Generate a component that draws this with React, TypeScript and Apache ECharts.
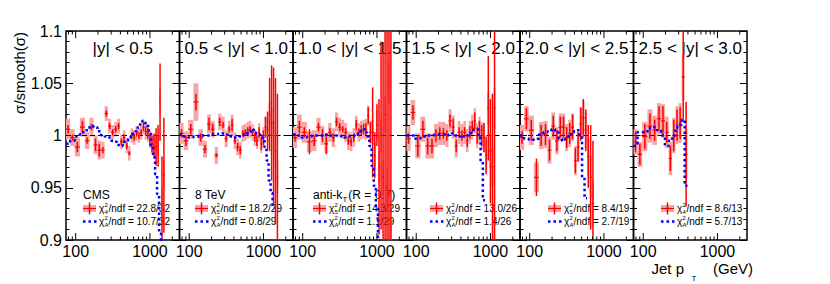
import React, { useEffect, useRef } from "react";
import * as echarts from "echarts";

// CMS inclusive-jet pT bin edges (GeV)
const BIN_EDGES = [74, 84, 97, 114, 133, 153, 174, 196, 220, 245, 272, 300, 330, 362, 395, 430, 468, 507, 548, 592, 638, 686, 737, 790, 846, 905, 967, 1032, 1101, 1172, 1248, 1327, 1410, 1497, 1588, 1684, 1784, 1890, 2000];

const X_MIN = 74;
const X_MAX = 2500;
const Y_MIN = 0.9;
const Y_MAX = 1.1;
const Y_STEP = 0.05;
const REF_VALUE = 1;
const X_TICK_VALUES = [80, 90, 100, 200, 300, 400, 500, 600, 700, 800, 900, 1000, 2000];

const RAPIDITY_LABELS = ["|y| < 0.5", "0.5 < |y| < 1.0", "1.0 < |y| < 1.5", "1.5 < |y| < 2.0", "2.0 < |y| < 2.5", "2.5 < |y| < 3.0"];
const FIT_NPAR = ["4", "5", "5", "5", "5", "4"];
const CHI2_FIT = ["22.8/32", "18.2/29", "14.3/29", "13.0/26", "8.4/19", "8.6/13"];
const CHI2_ANSATZ = ["10.7/32", "0.8/29", "1.1/29", "1.4/26", "2.7/19", "5.7/13"];

// |y| < 0.5
const P1_RATIO = [1.006, 0.998, 0.989, 1.008, 0.995, 1.008, 0.991, 0.986, 0.986, 1.021, 1.009, 1.003, 1.006, 1.009, 0.994, 0.998, 0.990, 0.983, 1.000, 0.998, 1.002, 1.000, 1.003, 1.008, 1.004, 1.002, 0.996, 0.992, 0.990, 0.989, 0.990, 1.032, 0.935, 0.962];
const P1_STAT = [0.004, 0.003, 0.005, 0.006, 0.003, 0.003, 0.006, 0.006, 0.003, 0.003, 0.003, 0.003, 0.003, 0.003, 0.003, 0.003, 0.003, 0.002, 0.003, 0.003, 0.003, 0.003, 0.003, 0.004, 0.004, 0.005, 0.006, 0.008, 0.012, 0.018, 0.020, 0.037, 0.045, 0.055];
const P1_SYST = [0.010, 0.008, 0.009, 0.009, 0.008, 0.009, 0.009, 0.009, 0.008, 0.007, 0.007, 0.007, 0.007, 0.007, 0.007, 0.007, 0.007, 0.007, 0.007, 0.007, 0.007, 0.007, 0.007, 0.007, 0.008, 0.008, 0.008, 0.009, 0.009, 0.010, 0.010, 0.012, 0.013, 0.014];
const P1_SMOOTH = [0.992, 0.995, 0.999, 1.003, 1.005, 1.009, 1.008, 1.004, 1.000, 0.999, 0.998, 0.995, 0.994, 0.991, 0.990, 0.994, 0.995, 0.998, 0.999, 1.002, 1.004, 1.008, 1.012, 1.014, 1.012, 1.009, 1.002, 0.989, 0.979, 0.963, 0.944, 0.906, 0.850];

// 0.5 < |y| < 1.0
const P2_RATIO = [1.002, 0.995, 1.006, 1.032, 0.998, 0.987, 1.011, 1.006, 0.981, 1.013, 1.010, 0.997, 1.006, 1.010, 0.995, 0.989, 0.986, 1.002, 1.003, 1.005, 1.006, 1.003, 0.998, 0.995, 1.003, 0.992, 0.998, 1.008, 1.005, 1.020, 1.012, 1.000, 0.985, 0.960];
const P2_STAT = [0.004, 0.005, 0.005, 0.008, 0.004, 0.004, 0.006, 0.005, 0.002, 0.004, 0.003, 0.003, 0.003, 0.006, 0.003, 0.004, 0.004, 0.003, 0.003, 0.003, 0.003, 0.003, 0.004, 0.005, 0.005, 0.006, 0.007, 0.010, 0.018, 0.035, 0.055, 0.065, 0.070, 0.080];
const P2_SYST = [0.010, 0.009, 0.009, 0.018, 0.008, 0.008, 0.009, 0.008, 0.008, 0.008, 0.008, 0.008, 0.008, 0.010, 0.008, 0.008, 0.008, 0.008, 0.008, 0.008, 0.008, 0.008, 0.008, 0.008, 0.009, 0.009, 0.010, 0.010, 0.011, 0.012, 0.013, 0.014, 0.015, 0.016];
const P2_SMOOTH = [1.001, 0.999, 0.998, 0.999, 1.000, 1.000, 1.000, 1.001, 1.001, 1.002, 1.002, 1.001, 1.000, 0.999, 0.998, 0.998, 0.999, 1.000, 1.001, 1.002, 1.004, 1.006, 1.003, 1.002, 1.001, 0.999, 0.996, 0.989, 0.976, 0.957, 0.945, 0.931];

// 1.0 < |y| < 1.5
const P3_RATIO = [0.998, 1.008, 1.003, 0.994, 0.995, 1.008, 1.000, 0.992, 1.003, 0.998, 1.013, 1.008, 1.006, 1.003, 0.995, 0.994, 0.998, 1.010, 1.003, 1.005, 1.006, 1.006, 1.019, 1.003, 1.003, 0.981, 1.010, 0.970, 1.000, 0.960, 1.020, 0.950, 1.050, 0.900];
const P3_STAT = [0.004, 0.006, 0.005, 0.012, 0.005, 0.004, 0.006, 0.010, 0.004, 0.004, 0.004, 0.004, 0.003, 0.004, 0.004, 0.004, 0.004, 0.005, 0.004, 0.005, 0.005, 0.006, 0.008, 0.010, 0.043, 0.022, 0.020, 0.065, 0.090, 0.120, 0.150, 0.200, 0.200, 0.200];
const P3_SYST = [0.010, 0.012, 0.010, 0.010, 0.010, 0.009, 0.009, 0.009, 0.009, 0.009, 0.009, 0.009, 0.009, 0.009, 0.009, 0.009, 0.009, 0.009, 0.009, 0.009, 0.009, 0.010, 0.010, 0.011, 0.012, 0.013, 0.014, 0.015, 0.016, 0.017, 0.018, 0.019, 0.020, 0.021];
const P3_SMOOTH = [1.001, 1.000, 0.998, 0.999, 1.000, 1.000, 1.000, 1.001, 1.000, 1.000, 1.000, 1.000, 0.999, 0.998, 0.999, 1.000, 1.000, 1.001, 1.002, 1.004, 1.006, 1.003, 0.999, 0.990, 0.971, 0.952, 0.930, 0.900];

// 1.5 < |y| < 2.0
const P4_RATIO = [0.997, 1.022, 0.990, 1.006, 0.990, 0.990, 1.000, 1.002, 1.002, 1.000, 1.014, 1.008, 0.990, 1.003, 1.000, 1.003, 0.995, 1.003, 1.008, 1.014, 1.000, 1.005, 1.000, 0.998, 0.981, 1.026, 0.985, 0.970, 1.026];
const P4_STAT = [0.005, 0.007, 0.010, 0.008, 0.008, 0.007, 0.006, 0.006, 0.005, 0.005, 0.006, 0.008, 0.006, 0.005, 0.005, 0.005, 0.006, 0.006, 0.006, 0.008, 0.008, 0.009, 0.010, 0.014, 0.018, 0.050, 0.050, 0.070, 0.200];
const P4_SYST = [0.012, 0.012, 0.012, 0.012, 0.012, 0.012, 0.011, 0.011, 0.011, 0.011, 0.011, 0.011, 0.011, 0.011, 0.011, 0.011, 0.011, 0.011, 0.012, 0.012, 0.012, 0.013, 0.013, 0.014, 0.015, 0.016, 0.017, 0.018, 0.020];
const P4_SMOOTH = [1.000, 1.000, 0.997, 0.999, 1.000, 1.000, 1.001, 1.001, 1.001, 1.000, 1.001, 1.002, 1.000, 0.999, 0.998, 0.999, 1.000, 1.002, 1.004, 1.006, 1.006, 0.998, 0.975, 0.938];

// 2.0 < |y| < 2.5
const P5_RATIO = [0.998, 1.016, 1.005, 0.960, 1.000, 1.001, 0.986, 1.009, 0.995, 1.008, 1.008, 0.998, 1.002, 1.008, 0.976, 0.989, 1.011, 1.017, 1.005, 0.980, 0.960, 0.935];
const P5_STAT = [0.006, 0.010, 0.010, 0.018, 0.010, 0.010, 0.010, 0.010, 0.010, 0.010, 0.010, 0.010, 0.010, 0.012, 0.012, 0.014, 0.016, 0.018, 0.020, 0.030, 0.050, 0.060];
const P5_SYST = [0.012, 0.012, 0.014, 0.014, 0.013, 0.013, 0.013, 0.013, 0.013, 0.013, 0.013, 0.013, 0.013, 0.013, 0.014, 0.014, 0.015, 0.016, 0.017, 0.018, 0.020, 0.022];
const P5_SMOOTH = [1.000, 0.997, 0.996, 0.997, 1.001, 1.003, 1.004, 1.006, 1.003, 0.997, 0.995, 0.997, 1.000, 1.003, 1.004, 1.005, 1.000, 0.960, 0.940];

// 2.5 < |y| < 3.0
const P6_RATIO = [0.994, 0.982, 0.999, 1.009, 1.005, 1.016, 1.014, 1.003, 0.978, 1.000, 1.010, 1.012, 1.056, 0.982];
const P6_STAT = [0.010, 0.010, 0.012, 0.012, 0.010, 0.012, 0.014, 0.010, 0.012, 0.015, 0.015, 0.015, 0.043, 0.050];
const P6_SYST = [0.012, 0.012, 0.014, 0.016, 0.014, 0.015, 0.016, 0.015, 0.016, 0.017, 0.018, 0.019, 0.022, 0.024];
const P6_SMOOTH = [0.990, 1.003, 1.003, 1.007, 1.008, 1.005, 1.000, 0.990, 0.995, 1.000, 1.008, 1.010, 1.015, 0.952];

const PANELS = [
  { ratio: P1_RATIO, stat: P1_STAT, syst: P1_SYST, smooth: P1_SMOOTH },
  { ratio: P2_RATIO, stat: P2_STAT, syst: P2_SYST, smooth: P2_SMOOTH },
  { ratio: P3_RATIO, stat: P3_STAT, syst: P3_SYST, smooth: P3_SMOOTH },
  { ratio: P4_RATIO, stat: P4_STAT, syst: P4_SYST, smooth: P4_SMOOTH },
  { ratio: P5_RATIO, stat: P5_STAT, syst: P5_SYST, smooth: P5_SMOOTH },
  { ratio: P6_RATIO, stat: P6_STAT, syst: P6_SYST, smooth: P6_SMOOTH },
];

// layout
const PANEL_X0 = 66;
const PANEL_W = 113.5;
const PANEL_TOP = 31;
const PANEL_H = 209;
const LEGEND_X = [83, 195, 313, 430, 548, 661];
const FONT = "'Liberation Sans', Arial, Helvetica, sans-serif";
const RED = "#ff0000";
const PINK = "#f8a5a5";
const BLUE = "#0000ff";

function isPow10(v: number) {
  const l = Math.log10(v);
  return Math.abs(l - Math.round(l)) < 1e-6;
}

function buildOption() {
  const grid: any[] = [];
  const xAxis: any[] = [];
  const yAxis: any[] = [];
  const series: any[] = [];
  const graphic: any[] = [];

  PANELS.forEach((p, i) => {
    grid.push({
      left: PANEL_X0 + i * PANEL_W,
      top: PANEL_TOP,
      width: PANEL_W,
      height: PANEL_H,
      show: true,
      borderColor: "#000",
      borderWidth: 1.5,
      backgroundColor: "transparent",
    });
    xAxis.push({
      gridIndex: i,
      type: "log",
      logBase: 10,
      min: X_MIN,
      max: X_MAX,
      axisLine: { show: false },
      axisTick: { show: false },
      splitLine: { show: false },
      axisLabel: {
        show: true,
        margin: 3,
        fontSize: 16,
        fontFamily: FONT,
        color: "#000",
        showMinLabel: false,
        showMaxLabel: false,
        formatter: (v: number) => (isPow10(v) ? String(Math.round(v)) : ""),
      },
    });
    const yCommon = {
      gridIndex: i,
      type: "value",
      min: Y_MIN,
      max: Y_MAX,
      interval: Y_STEP,
      axisLine: { show: false },
      splitLine: { show: false },
      axisTick: { show: true, inside: true, length: 7, lineStyle: { color: "#000", width: 1 } },
      minorTick: { show: true, splitNumber: 5, length: 3.5, lineStyle: { color: "#000", width: 1 } },
    };
    yAxis.push({
      ...yCommon,
      position: "left",
      axisLabel: {
        show: i === 0,
        margin: 4,
        fontSize: 16,
        fontFamily: FONT,
        color: "#000",
        formatter: (v: number) => String(parseFloat(v.toFixed(2))),
      },
    });
    yAxis.push({ ...yCommon, position: "right", axisLabel: { show: false } });

    const yIdx = 2 * i;
    const boxData = p.ratio.map((v, k) => [BIN_EDGES[k], BIN_EDGES[k + 1], v, p.syst[k]]);
    const barData = p.ratio.map((v, k) => [BIN_EDGES[k], BIN_EDGES[k + 1], v, p.stat[k]]);

    // systematic boxes
    series.push({
      type: "custom",
      xAxisIndex: i,
      yAxisIndex: yIdx,
      clip: true,
      silent: true,
      z: 1,
      data: boxData,
      encode: { x: [0, 1], y: 2 },
      renderItem: (params: any, api: any) => {
        const lo = api.value(0), hi = api.value(1), v = api.value(2), s = api.value(3);
        const a = api.coord([lo, v + s]);
        const b = api.coord([hi, v - s]);
        return { type: "rect", shape: { x: a[0], y: a[1], width: b[0] - a[0], height: b[1] - a[1] }, style: { fill: PINK } };
      },
    });

    // reference line at 1
    series.push({
      type: "line",
      xAxisIndex: i,
      yAxisIndex: yIdx,
      data: [[X_MIN, REF_VALUE], [X_MAX, REF_VALUE]],
      symbol: "none",
      silent: true,
      z: 2,
      lineStyle: { color: "#000", width: 1, type: [5, 3] },
    });

    // data points with stat error bars
    series.push({
      type: "custom",
      xAxisIndex: i,
      yAxisIndex: yIdx,
      clip: true,
      silent: true,
      z: 3,
      data: barData,
      encode: { x: [0, 1], y: 2 },
      renderItem: (params: any, api: any) => {
        const lo = api.value(0), hi = api.value(1), v = api.value(2), e = api.value(3);
        const c = Math.sqrt(lo * hi);
        const l = api.coord([lo, v]);
        const r = api.coord([hi, v]);
        const t = api.coord([c, v + e]);
        const b = api.coord([c, v - e]);
        return {
          type: "group",
          children: [
            { type: "line", shape: { x1: l[0], y1: l[1], x2: r[0], y2: r[1] }, style: { stroke: RED, lineWidth: 1.2 } },
            { type: "line", shape: { x1: t[0], y1: t[1], x2: b[0], y2: b[1] }, style: { stroke: RED, lineWidth: 1.5 } },
          ],
        };
      },
    });

    // smooth ansatz (histogram style)
    const sm = p.smooth.map((v, k) => [BIN_EDGES[k], v]);
    sm.push([BIN_EDGES[p.smooth.length], p.smooth[p.smooth.length - 1]]);
    series.push({
      type: "line",
      xAxisIndex: i,
      yAxisIndex: yIdx,
      data: sm,
      step: "end",
      symbol: "none",
      silent: true,
      z: 4,
      lineStyle: { color: BLUE, width: 2.5, type: [2.5, 3], cap: "butt" },
    });

    // x-axis ticks (top & bottom, inward)
    series.push({
      type: "custom",
      xAxisIndex: i,
      yAxisIndex: yIdx,
      silent: true,
      z: 5,
      data: X_TICK_VALUES.map((v) => [v, Y_MIN]),
      encode: { x: 0, y: 1 },
      renderItem: (params: any, api: any) => {
        const v = api.value(0);
        const x = api.coord([v, Y_MIN])[0];
        const cs = params.coordSys;
        const len = isPow10(v) ? 7 : 3.5;
        return {
          type: "group",
          children: [
            { type: "line", shape: { x1: x, y1: cs.y + cs.height, x2: x, y2: cs.y + cs.height - len }, style: { stroke: "#000", lineWidth: 1 } },
            { type: "line", shape: { x1: x, y1: cs.y, x2: x, y2: cs.y + len }, style: { stroke: "#000", lineWidth: 1 } },
          ],
        };
      },
    });

    // panel title
    graphic.push({
      type: "text",
      x: PANEL_X0 + (i + 0.5) * PANEL_W,
      y: 48,
      style: { text: RAPIDITY_LABELS[i], fontSize: 17, fontFamily: FONT, fill: "#000", textAlign: "center", textVerticalAlign: "middle" },
    });

    // legend
    const lx = LEGEND_X[i];
    const ry = 208.5;
    const by = 221.5;
    graphic.push({ type: "rect", shape: { x: lx, y: ry - 3.5, width: 13, height: 7 }, style: { fill: PINK } });
    graphic.push({ type: "line", shape: { x1: lx, y1: ry, x2: lx + 13, y2: ry }, style: { stroke: RED, lineWidth: 1.2 } });
    graphic.push({ type: "line", shape: { x1: lx + 6.5, y1: ry - 6, x2: lx + 6.5, y2: ry + 6 }, style: { stroke: RED, lineWidth: 1.5 } });
    graphic.push({ type: "line", shape: { x1: lx, y1: by, x2: lx + 14, y2: by }, style: { stroke: BLUE, lineWidth: 2.5, lineDash: [2.5, 3] } });
    const tx = lx + 16;
    const addChi = (y: number, sub: string, txt: string) => {
      graphic.push({ type: "text", x: tx, y, style: { text: "χ", fontSize: 10, fontFamily: FONT, fill: "#000", textAlign: "left", textVerticalAlign: "middle" } });
      graphic.push({ type: "text", x: tx + 5.5, y: y - 3.5, style: { text: "2", fontSize: 6, fontFamily: FONT, fill: "#000", textAlign: "left", textVerticalAlign: "middle" } });
      graphic.push({ type: "text", x: tx + 5.5, y: y + 3.5, style: { text: sub, fontSize: 6, fontFamily: FONT, fill: "#000", textAlign: "left", textVerticalAlign: "middle" } });
      graphic.push({ type: "text", x: tx + 9.5, y, style: { text: "/ndf = " + txt, fontSize: 10, fontFamily: FONT, fill: "#000", textAlign: "left", textVerticalAlign: "middle" } });
    };
    addChi(ry, FIT_NPAR[i], CHI2_FIT[i]);
    addChi(by, "A", CHI2_ANSATZ[i]);
  });

  // headers in legends
  const hdrStyle = { fontSize: 12, fontFamily: FONT, fill: "#000", textAlign: "left", textVerticalAlign: "middle" };
  graphic.push({ type: "text", x: LEGEND_X[0], y: 195, style: { ...hdrStyle, text: "CMS" } });
  graphic.push({ type: "text", x: LEGEND_X[1], y: 195, style: { ...hdrStyle, text: "8 TeV" } });
  graphic.push({ type: "text", x: LEGEND_X[2], y: 195, style: { ...hdrStyle, text: "anti-k" } });
  graphic.push({ type: "text", x: LEGEND_X[2] + 29.5, y: 199, style: { ...hdrStyle, fontSize: 8, text: "T" } });
  graphic.push({ type: "text", x: LEGEND_X[2] + 35.3, y: 195, style: { ...hdrStyle, text: "(R = 0.7)" } });

  // axis titles
  graphic.push({
    type: "text",
    x: 19,
    y: 32,
    rotation: Math.PI / 2,
    style: { text: "σ/smooth(σ)", fontSize: 15, fontFamily: FONT, fill: "#000", textAlign: "right", textVerticalAlign: "middle" },
  });
  graphic.push({ type: "text", x: 651.5, y: 268.5, style: { text: "Jet p", fontSize: 15, fontFamily: FONT, fill: "#000", textAlign: "left", textVerticalAlign: "middle" } });
  graphic.push({ type: "text", x: 691.5, y: 278.5, style: { text: "T", fontSize: 8, fontFamily: FONT, fill: "#000", textAlign: "left", textVerticalAlign: "middle" } });
  graphic.push({ type: "text", x: 713, y: 268.5, style: { text: "(GeV)", fontSize: 15, fontFamily: FONT, fill: "#000", textAlign: "left", textVerticalAlign: "middle" } });

  return {
    animation: false,
    backgroundColor: "#ffffff",
    grid,
    xAxis,
    yAxis,
    series,
    graphic,
  };
}

export default function App() {
  const ref = useRef<HTMLDivElement>(null);
  useEffect(() => {
    if (!ref.current) return;
    const chart = echarts.init(ref.current, undefined, { renderer: "svg" });
    chart.setOption(buildOption() as any);
    return () => chart.dispose();
  }, []);
  return <div ref={ref} style={{ position: "fixed", left: 0, top: 0, width: 830, height: 284 }} />;
}
